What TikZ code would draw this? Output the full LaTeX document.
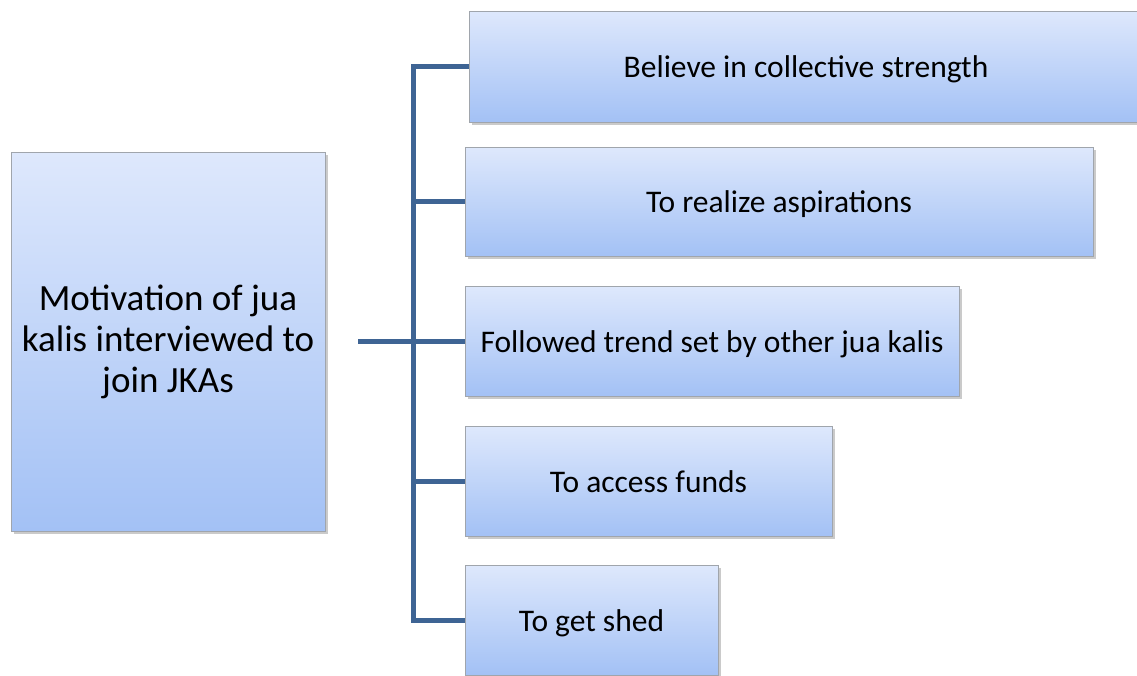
\documentclass[tikz,border=0pt]{standalone}
\usepackage{fontspec}
\setmainfont{Carlito}
\usetikzlibrary{shadows}
\definecolor{boxtop}{RGB}{222,232,252}
\definecolor{boxbot}{RGB}{163,193,245}
\definecolor{boxline}{RGB}{160,165,172}
\definecolor{connblue}{RGB}{62,100,148}
\begin{document}
\begin{tikzpicture}[x=1pt,y=-1pt,
  box/.style={draw=boxline, line width=0.8pt, top color=boxtop, bottom color=boxbot,
    drop shadow={shadow xshift=2.5pt, shadow yshift=-2.5pt, opacity=0.35, fill=black!60},
    inner sep=0pt, anchor=center},
  leaf/.style={box, font=\fontsize{31.5}{36}\selectfont, text height=26pt, text depth=4pt},
  conn/.style={draw=connblue, line width=5pt}]
\useasboundingbox (0,0) rectangle (1137,675);

% root box
\node[box, minimum width=314pt, minimum height=379pt, align=center,
  font=\fontsize{37}{41}\selectfont] (root) at (168,341.5)
  {Motivation of jua\\kalis interviewed to\\join JKAs};

% leaf boxes
\node[leaf, minimum width=674pt, minimum height=111pt] (b1) at (806,66.5) {Believe in collective strength};
\node[leaf, minimum width=628pt, minimum height=109pt] (b2) at (779,201.5) {To realize aspirations};
\node[leaf, minimum width=494pt, minimum height=110pt] (b3) at (712,341) {Followed trend set by other jua kalis};
\node[leaf, minimum width=367pt, minimum height=110pt] (b4) at (648.5,481) {To access funds};
\node[leaf, minimum width=253pt, minimum height=110pt] (b5) at (591.5,620) {To get shed};

% connectors
\coordinate (trunk) at (413,341);
\coordinate (stub) at (358,341);
\draw[conn] (stub) -- (b3.west);
\draw[conn] (b1.west) -- (b1.west -| trunk) -- (b5.west -| trunk) -- (b5.west);
\draw[conn] (b2.west -| trunk) -- (b2.west);
\draw[conn] (b4.west -| trunk) -- (b4.west);
\end{tikzpicture}
\end{document}
